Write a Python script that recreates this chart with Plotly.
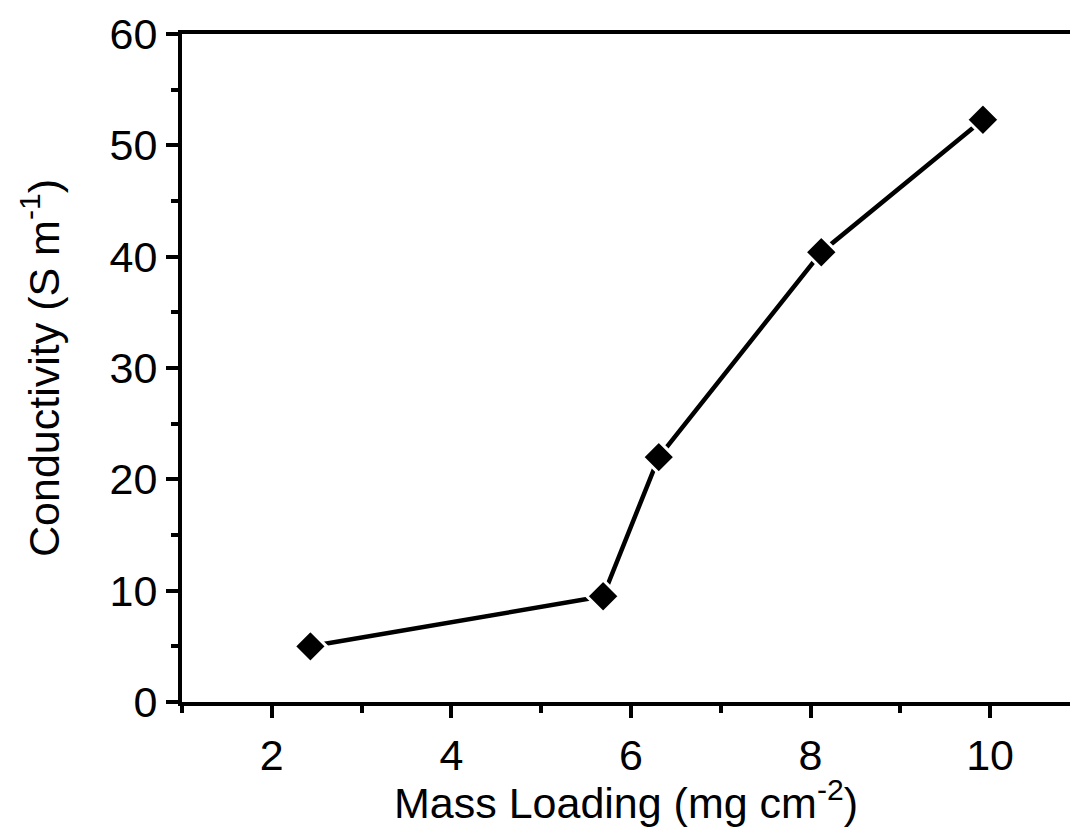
import plotly.graph_objects as go

mass_loading = [2.43, 5.69, 6.31, 8.12, 9.92]
conductivity = [5.0, 9.5, 22.0, 40.4, 52.3]
x_ticks = [2, 4, 6, 8, 10]
y_ticks = [0, 10, 20, 30, 40, 50, 60]

FONT = "Liberation Sans, Arial, sans-serif"
FS = 43

fig = go.Figure()
fig.add_trace(go.Scatter(
    x=mass_loading, y=conductivity, mode="lines+markers",
    line=dict(color="black", width=4.5),
    marker=dict(symbol="diamond", size=25, color="black",
                line=dict(color="white", width=3)),
    showlegend=False, cliponaxis=False,
))

axis_common = dict(
    showgrid=False, zeroline=False, showline=True, linecolor="black",
    linewidth=4, ticks="outside", tickwidth=4, ticklen=12, tickcolor="black",
    tickfont=dict(family=FONT, size=FS, color="black"),
)

fig.update_layout(
    width=1070, height=827,
    margin=dict(l=182, r=0, t=34, b=125),
    paper_bgcolor="white", plot_bgcolor="white",
    font=dict(family=FONT, color="black"),
    xaxis=dict(
        range=[1, 10.89], tickvals=x_ticks, mirror=True,
        minor=dict(dtick=1, tick0=1, ticks="outside", ticklen=7, tickwidth=4, tickcolor="black"),
        title=dict(text="Mass Loading (mg cm<sup>-2</sup>)", font=dict(family=FONT, size=FS), standoff=5),
        **axis_common,
    ),
    yaxis=dict(
        range=[0, 60], tickvals=y_ticks,
        minor=dict(dtick=5, tick0=0, ticks="outside", ticklen=7, tickwidth=4, tickcolor="black"),
        title=dict(text="Conductivity (S m<sup>-1</sup>)", font=dict(family=FONT, size=FS), standoff=38),
        **axis_common,
    ),
)

fig.write_html("out.html")
